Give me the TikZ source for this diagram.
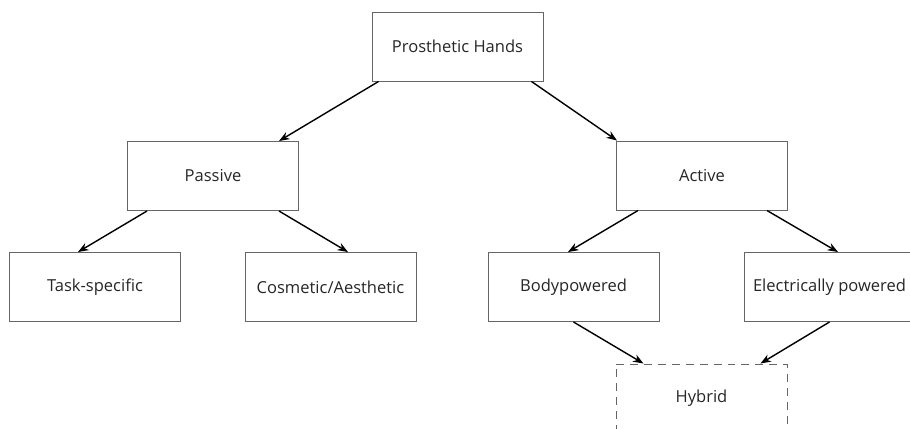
\documentclass[tikz,border=0pt]{standalone}
\usepackage{fontspec}
\setmainfont{Open Sans}
\usepackage{tikz}
\usetikzlibrary{arrows.meta}

\tikzset{
  box/.style={draw=black!60,line width=0.55pt,minimum width=3.42cm,minimum height=1.38cm,inner sep=0pt,text=black!85,font=\fontsize{9.4}{11}\selectfont},
  dashbox/.style={box,dash pattern=on 4.5pt off 3.4pt},
  arr/.style={-{Stealth[length=6pt,width=4.5pt]},line width=0.8pt,black}
}

\begin{document}
\begin{tikzpicture}
\useasboundingbox (0,0) rectangle (18.2,-8.56);
\node[box] (hands) at (9.15,-0.93) {Prosthetic Hands};
\node[box] (passive) at (4.26,-3.52) {Passive};
\node[box] (active) at (14.04,-3.51) {Active};
\node[box] (task) at (1.90,-5.74) {Task-specific};
\node[box] (cosm) at (6.61,-5.74) {Cosmetic/Aesthetic};
\node[box] (body) at (11.47,-5.74) {Bodypowered};
\node[box] (elec) at (16.59,-5.74) {Electrically powered};
\node[dashbox] (hybrid) at (14.03,-7.97) {Hybrid};

\draw[arr] ([xshift=0.14cm]hands.south west) -- ([xshift=-0.4cm]passive.north east);
\draw[arr] ([xshift=-0.24cm]hands.south east) -- ([xshift=0.02cm]active.north west);
\draw[arr] ([xshift=0.4cm]passive.south west) -- ([xshift=-0.34cm]task.north);
\draw[arr] ([xshift=-0.4cm]passive.south east) -- ([xshift=0.35cm]cosm.north);
\draw[arr] ([xshift=0.44cm]active.south west) -- ([xshift=-0.11cm]body.north);
\draw[arr] ([xshift=-0.42cm]active.south east) -- ([xshift=0.17cm]elec.north);
\draw[arr] (body.south) -- ([xshift=0.56cm]hybrid.north west);
\draw[arr] (elec.south) -- ([xshift=-0.54cm]hybrid.north east);
\end{tikzpicture}
\end{document}
